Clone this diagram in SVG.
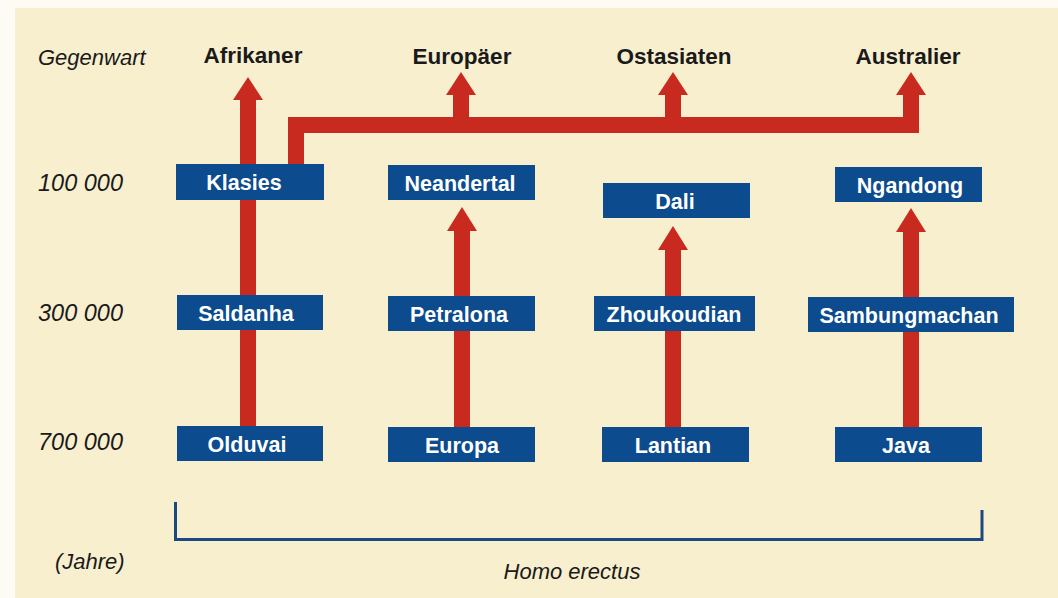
<svg xmlns="http://www.w3.org/2000/svg" width="1058" height="598" viewBox="0 0 1058 598">
<style>
.lbl{font-family:"Liberation Sans",Arial,sans-serif;font-style:italic;font-size:22px;fill:#1a1a1a}
.num{font-size:23.5px}
.hdr{font-family:"Liberation Sans",Arial,sans-serif;font-weight:bold;font-size:22.5px;fill:#1a1a1a;text-anchor:middle}
.box{fill:#0c4b8e}
.bt{font-family:"Liberation Sans",Arial,sans-serif;font-weight:bold;font-size:21.5px;fill:#ffffff;text-anchor:middle}
.arr{fill:#c92a1f}
</style>
<rect x="0" y="0" width="1058" height="598" fill="#fdfbf3"/>
<rect x="15" y="8" width="1043" height="590" fill="#f8efcf"/>
<g id="axis">
<text class="lbl" x="38" y="65">Gegenwart</text>
<text class="lbl num" x="38" y="191">100 000</text>
<text class="lbl num" x="38" y="321">300 000</text>
<text class="lbl num" x="38" y="450">700 000</text>
<text class="lbl" x="55" y="569">(Jahre)</text>
</g>
<g id="headers">
<text class="hdr" x="253" y="63">Afrikaner</text>
<text class="hdr" x="462" y="64">Europäer</text>
<text class="hdr" x="674" y="64">Ostasiaten</text>
<text class="hdr" x="908" y="64">Australier</text>
</g>
<g id="connectors">
<path class="arr" d="M240,426 V100 H233 L248,77 L263,100 H256 V426 Z"/>
<path class="arr" d="M288,165 V117 H453 V95 H446 L461,72 L476,95 H469 V117 H665 V95 H658 L673,72 L688,95 H681 V117 H903 V95 H896 L911,72 L926,95 H919 V133 H304 V165 Z"/>
<path class="arr" d="M454,427 V231 H447 L462,207 L477,231 H470 V427 Z"/>
<path class="arr" d="M665,427 V250 H658 L673,226 L688,250 H681 V427 Z"/>
<path class="arr" d="M903,428 V232 H896 L911,208 L926,232 H919 V428 Z"/>
</g>
<g id="n-klasies"><rect class="box" x="176" y="164" width="148" height="36"/><text class="bt" x="244" y="190">Klasies</text></g>
<g id="n-neandertal"><rect class="box" x="388" y="165" width="147" height="35"/><text class="bt" x="460" y="191">Neandertal</text></g>
<g id="n-dali"><rect class="box" x="603" y="183" width="147" height="35"/><text class="bt" x="675" y="209">Dali</text></g>
<g id="n-ngandong"><rect class="box" x="835" y="167" width="147" height="35"/><text class="bt" x="910" y="193">Ngandong</text></g>
<g id="n-saldanha"><rect class="box" x="177" y="295" width="146" height="35"/><text class="bt" x="246" y="321">Saldanha</text></g>
<g id="n-petralona"><rect class="box" x="388" y="296" width="147" height="35"/><text class="bt" x="459" y="322">Petralona</text></g>
<g id="n-zhoukoudian"><rect class="box" x="594" y="296" width="161" height="35"/><text class="bt" x="674" y="322">Zhoukoudian</text></g>
<g id="n-sambungmachan"><rect class="box" x="808" y="297" width="206" height="35"/><text class="bt" x="909" y="323">Sambungmachan</text></g>
<g id="n-olduvai"><rect class="box" x="177" y="426" width="146" height="35"/><text class="bt" x="247" y="452">Olduvai</text></g>
<g id="n-europa"><rect class="box" x="388" y="427" width="147" height="35"/><text class="bt" x="462" y="453">Europa</text></g>
<g id="n-lantian"><rect class="box" x="602" y="427" width="147" height="35"/><text class="bt" x="673" y="453">Lantian</text></g>
<g id="n-java"><rect class="box" x="835" y="427" width="147" height="35"/><text class="bt" x="906" y="453">Java</text></g>
<g id="bracket">
<path d="M175.5,502 V539.5 H982 V510" fill="none" stroke="#1b4a82" stroke-width="3"/>
<text class="lbl" x="572" y="579" text-anchor="middle">Homo erectus</text>
</g>
</svg>
